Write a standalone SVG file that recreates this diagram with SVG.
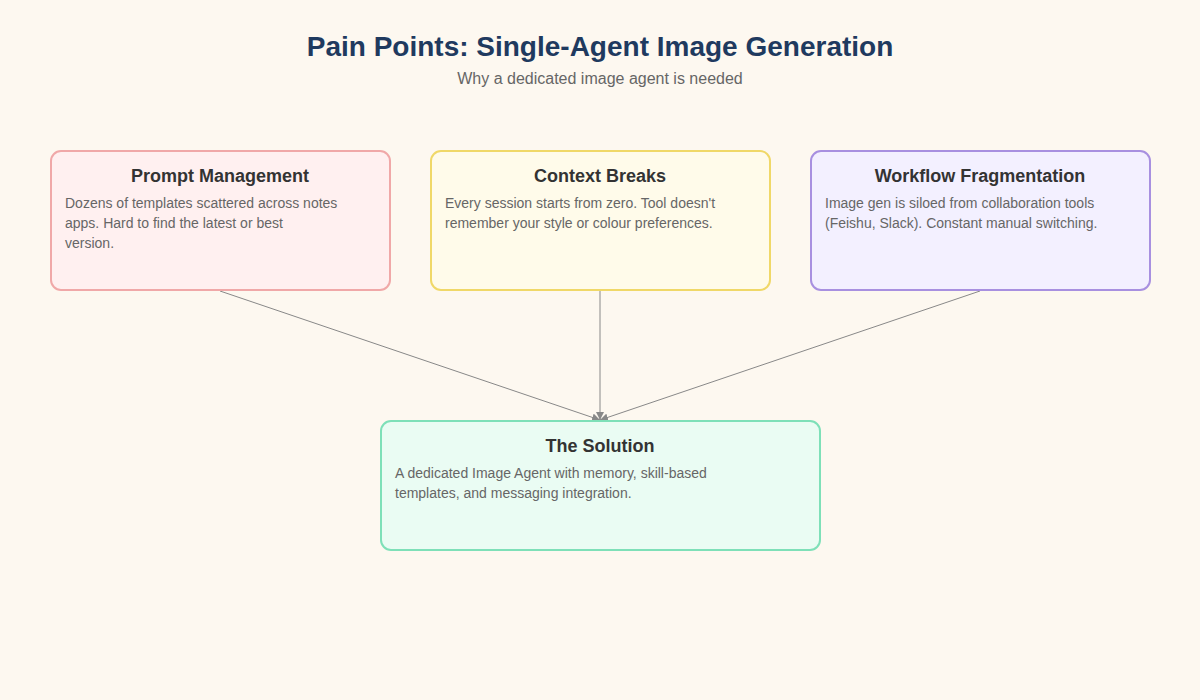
<svg xmlns="http://www.w3.org/2000/svg" width="1200" height="700" viewBox="0 0 1200 700">
<style>
.title{font-family:"Liberation Sans",Arial,sans-serif;font-size:28px;font-weight:bold;fill:#1f3a5f;text-anchor:middle}
.sub{font-family:"Liberation Sans",Arial,sans-serif;font-size:16px;fill:#666;text-anchor:middle}
.nt{font-family:"Liberation Sans",Arial,sans-serif;font-size:18px;font-weight:bold;fill:#333;text-anchor:middle}
.nb{font-family:"Liberation Sans",Arial,sans-serif;font-size:14px;fill:#666}
.box{stroke-width:2}
.conn{stroke:#888;stroke-width:1;fill:none}
</style>
<defs>
<marker id="arr" viewBox="0 0 10 10" refX="10" refY="5" markerWidth="8" markerHeight="8" orient="auto" markerUnits="userSpaceOnUse">
<path d="M0,0 L10,5 L0,10 z" fill="#888"/>
</marker>
</defs>
<rect width="1200" height="700" fill="#fdf8f0"/>
<text class="title" x="600" y="56">Pain Points: Single-Agent Image Generation</text>
<text class="sub" x="600" y="84">Why a dedicated image agent is needed</text>
<g id="connectors">
<line class="conn" x1="220" y1="291" x2="600" y2="420" marker-end="url(#arr)"/>
<line class="conn" x1="600" y1="291" x2="600" y2="420" marker-end="url(#arr)" stroke-width="1.5"/>
<line class="conn" x1="980" y1="291" x2="600" y2="420" marker-end="url(#arr)"/>
</g>
<g id="prompt">
<rect class="box" x="51" y="151" width="339" height="139" rx="10" fill="#fff0f0" stroke="#f0a8a8"/>
<text class="nt" x="220" y="182">Prompt Management</text>
<text class="nb" x="65" y="208">Dozens of templates scattered across notes</text>
<text class="nb" x="65" y="228">apps. Hard to find the latest or best</text>
<text class="nb" x="65" y="248">version.</text>
</g>
<g id="context">
<rect class="box" x="431" y="151" width="339" height="139" rx="10" fill="#fffbea" stroke="#f0d868"/>
<text class="nt" x="600" y="182">Context Breaks</text>
<text class="nb" x="445" y="208">Every session starts from zero. Tool doesn't</text>
<text class="nb" x="445" y="228">remember your style or colour preferences.</text>
</g>
<g id="workflow">
<rect class="box" x="811" y="151" width="339" height="139" rx="10" fill="#f3f0ff" stroke="#a890e0"/>
<text class="nt" x="980" y="182">Workflow Fragmentation</text>
<text class="nb" x="825" y="208">Image gen is siloed from collaboration tools</text>
<text class="nb" x="825" y="228">(Feishu, Slack). Constant manual switching.</text>
</g>
<g id="solution">
<rect class="box" x="381" y="421" width="439" height="129" rx="10" fill="#eafcf3" stroke="#7ee0b8"/>
<text class="nt" x="600" y="452">The Solution</text>
<text class="nb" x="395" y="478">A dedicated Image Agent with memory, skill-based</text>
<text class="nb" x="395" y="498">templates, and messaging integration.</text>
</g>
</svg>
